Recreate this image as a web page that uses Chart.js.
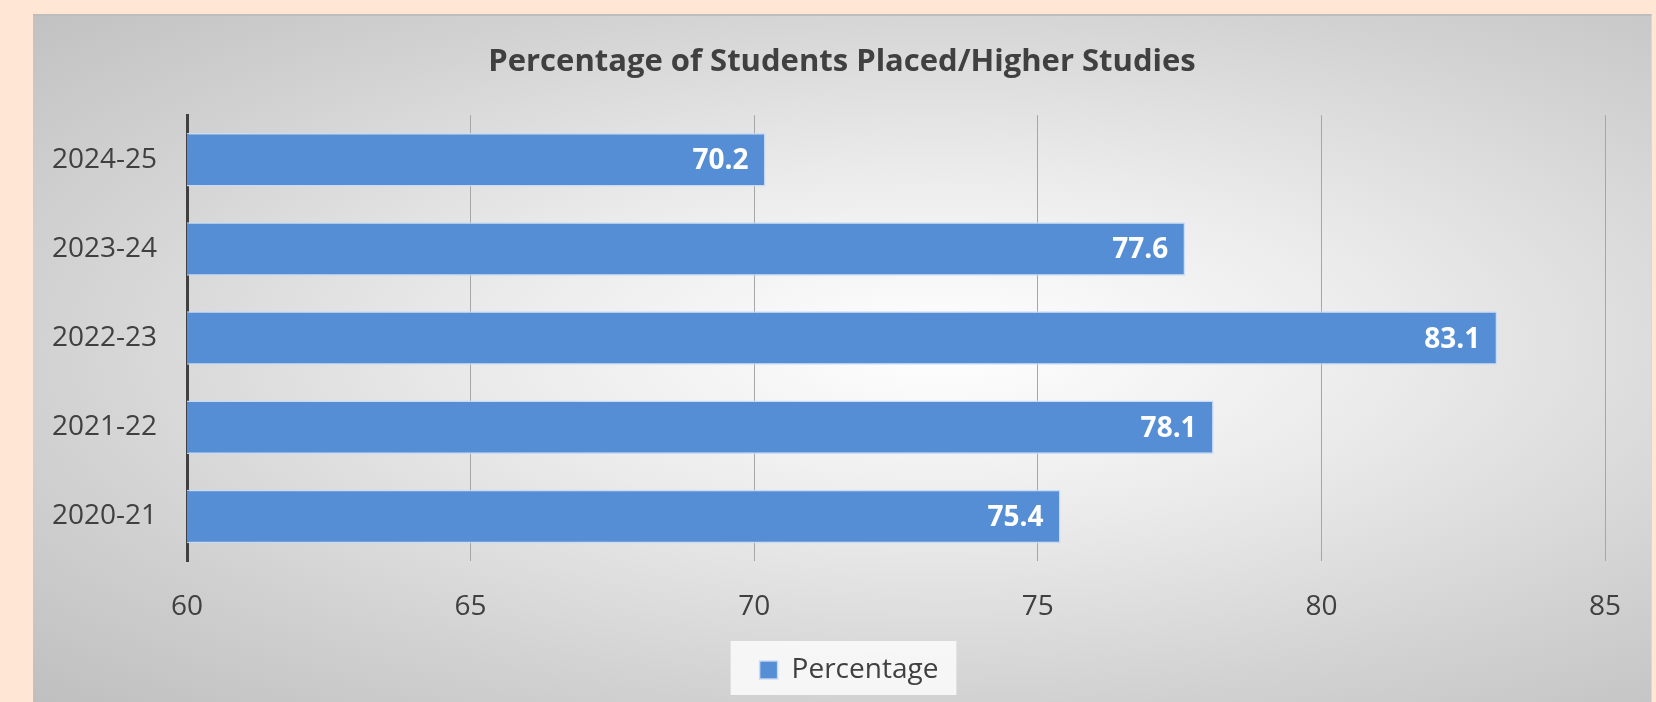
<!DOCTYPE html>
<html>
<head>
<meta charset="utf-8">
<script src="https://cdn.jsdelivr.net/npm/chart.js@4.4.0/dist/chart.umd.min.js"></script>
<style>
  html, body { margin: 0; padding: 0; background: #ffe6d5; overflow: hidden; }
  #box {
    position: absolute; left: 33px; top: 14px; width: 1619px; height: 688px;
    border-top: 2px solid #bdbdbd; box-sizing: border-box;
    border-right: 1px solid #d8d8d8;
    background: radial-gradient(ellipse farthest-corner at 56% 48%, #ffffff 0%, #ebebeb 35%, #d2d2d2 70%, #bfbfbf 100%);
  }
</style>
</head>
<body>
<div id="box"><canvas id="chart"></canvas></div>
<script>
// Data
const years = ['2020-21', '2021-22', '2022-23', '2023-24', '2024-25'];
const percentage = [75.4, 78.1, 83.1, 77.6, 70.2];
const xTicks = [60, 65, 70, 75, 80, 85];

const textColor = '#404040';
const barColor = '#558ed5';

// white value labels at the end of each bar
const barLabels = {
  id: 'barLabels',
  afterDatasetsDraw(chart) {
    const ctx = chart.ctx;
    const meta = chart.getDatasetMeta(0);
    ctx.save();
    ctx.fillStyle = '#ffffff';
    ctx.font = 'bold 28px "Open Sans"';
    ctx.textAlign = 'right';
    ctx.textBaseline = 'middle';
    meta.data.forEach((bar, i) => {
      ctx.fillText(percentage[i].toFixed(1), bar.x - 17, bar.y + 1.5);
    });
    ctx.restore();
  }
};

// title and legend sit centred on the whole canvas, not on the plot; legend gets a light panel
const centerBoxes = {
  id: 'centerBoxes',
  afterLayout(chart) {
    const lg = chart.legend;
    lg.left += 30;
    lg.right += 30;
    const tb = chart.titleBlock;
    tb.left += 23;
    tb.right += 23;
  },
  beforeDraw(chart) {
    const hb = chart.legend.legendHitBoxes[0];
    if (!hb) return;
    const ctx = chart.ctx;
    ctx.save();
    ctx.fillStyle = 'rgba(250,250,250,0.9)';
    ctx.fillRect(hb.left - 29, hb.top + hb.height / 2 - 29, hb.width + 47, 54);
    ctx.restore();
  }
};

const ctx = document.getElementById('chart').getContext('2d');
new Chart(ctx, {
  type: 'bar',
  data: {
    labels: years,
    datasets: [{
      label: 'Percentage',
      data: percentage,
      backgroundColor: barColor,
      borderColor: 'rgba(200,218,245,0.95)',
      borderWidth: 1.5,
      categoryPercentage: 1,
      barPercentage: 0.6
    }]
  },
  options: {
    indexAxis: 'y',
    responsive: true,
    maintainAspectRatio: false,
    animation: false,
    layout: { padding: { left: 0, right: 46, top: 0, bottom: 8 } },
    plugins: {
      title: {
        display: true,
        text: 'Percentage of Students Placed/Higher Studies',
        color: textColor,
        font: { family: 'Open Sans', size: 31, weight: 'bold' },
        padding: { top: 28, bottom: 34 }
      },
      legend: {
        position: 'bottom',
        labels: {
          color: textColor,
          font: { family: 'Open Sans', size: 28 },
          boxWidth: 18,
          boxHeight: 18,
          padding: 10
        }
      },
      tooltip: { enabled: false }
    },
    scales: {
      x: {
        min: 60,
        max: 85,
        afterBuildTicks: scale => { scale.ticks = xTicks.map(v => ({ value: v })); },
        afterFit: scale => { scale.height = 85; },
        grid: { color: '#a6a6a6', lineWidth: 1, drawTicks: false },
        border: { display: false },
        ticks: {
          color: textColor,
          font: { family: 'Open Sans', size: 28 },
          padding: 29
        }
      },
      y: {
        reverse: true,
        afterFit: scale => { scale.width = 154; },
        grid: { display: false, drawTicks: false },
        border: { display: true, color: '#404040', width: 3 },
        ticks: {
          color: textColor,
          font: { family: 'Open Sans', size: 28 },
          padding: 30
        }
      }
    }
  },
  plugins: [barLabels, centerBoxes]
});
</script>
</body>
</html>
